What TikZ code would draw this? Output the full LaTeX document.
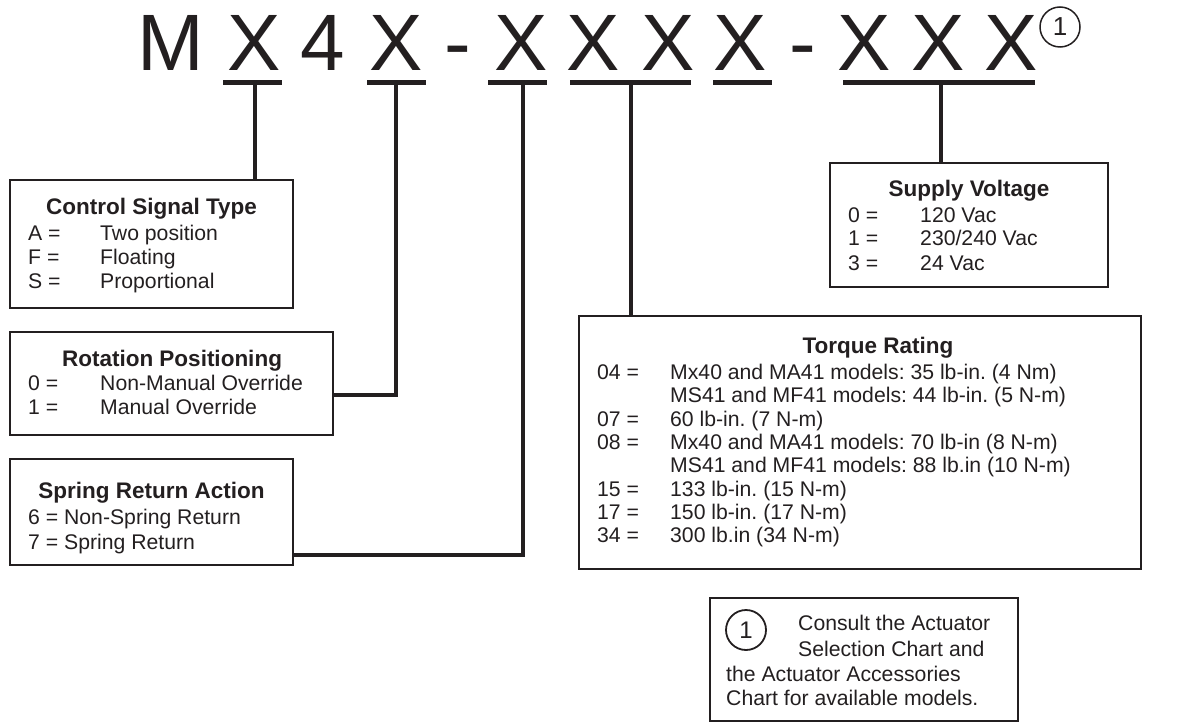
\documentclass[tikz,border=0pt]{standalone}
\usepackage{fontspec}
\setmainfont{Liberation Sans}
\definecolor{ink}{HTML}{231F20}
\frenchspacing
\begin{document}
\begin{tikzpicture}[x=1pt,y=-1pt,
  box/.style={draw=ink,line width=2.4pt,inner sep=0pt,outer sep=0pt,rectangle},
  conn/.style={draw=ink,line width=4.6pt},
  uline/.style={draw=ink,line width=5pt},
  big/.style={anchor=base,inner sep=0pt,text=ink,font=\fontsize{80}{80}\selectfont},
  ttl/.style={anchor=base,inner sep=0pt,text=ink,font=\fontsize{22.5}{24}\selectfont\bfseries},
  txt/.style={anchor=base west,inner sep=0pt,text=ink,font=\fontsize{21.2}{24}\selectfont},
  circ/.style={draw=ink,line width=1.8pt,circle,inner sep=0pt,minimum size=40pt,text=ink}
]
\useasboundingbox (0,0) rectangle (1177,727);
% title code
\node[big] (tM) at (171,71) {M};
\node[big] (tX1) at (254,71) {X};
\node[big] (t4) at (323,71) {4};
\node[big] (tX2) at (396,71) {X};
\node[big] (td1) at (458,71) {-};
\node[big] (tX3) at (521,71) {X};
\node[big] (tX4) at (593,71) {X};
\node[big] (tX5) at (668,71) {X};
\node[big] (tX6) at (740,71) {X};
\node[big] (td2) at (803,71) {-};
\node[big] (tX7) at (864,71) {X};
\node[big] (tX8) at (938,71) {X};
\node[big] (tX9) at (1011,71) {X};
\node[circ,line width=1.5pt,font=\fontsize{26}{26}\selectfont] (fn1) at (1060,27) {1};
% underlines
\draw[uline] (223,83) -- (282,83);
\draw[uline] (367,83) -- (426,83);
\draw[uline] (488,83) -- (547,83);
\draw[uline] (570,83) -- (691,83);
\draw[uline] (713,83) -- (772,83);
\draw[uline] (843,83) -- (1035,83);
\coordinate (u1) at (255,83);
\coordinate (u2) at (396,83);
\coordinate (u3) at (523,83);
\coordinate (u4) at (631,83);
\coordinate (u5) at (941,83);
% boxes
\node[box,minimum width=283pt,minimum height=128pt] (ctrl) at (151.5,244) {};
\node[box,minimum width=323pt,minimum height=103pt] (rot) at (171.5,383.5) {};
\node[box,minimum width=283pt,minimum height=106pt] (spr) at (151.5,512) {};
\node[box,minimum width=278pt,minimum height=124pt] (sup) at (969,225) {};
\node[box,minimum width=562pt,minimum height=253pt] (trq) at (860,442.5) {};
\node[box,minimum width=308pt,minimum height=123pt] (note) at (864,659.5) {};
% connectors
\coordinate (c2) at (333,395);
\coordinate (c3) at (293,555);
\draw[conn] (u1) -- (u1 |- ctrl.north);
\draw[conn] (u2) |- (c2);
\draw[conn] (u3) |- (c3);
\draw[conn] (u4) -- (u4 |- trq.north);
\draw[conn] (u5) -- (u5 |- sup.north);
% control signal type
\node[ttl] (ctrlT) at (151.5,215) {Control Signal Type};
\node[txt] (ctrlA) at (28,241) {A =};
\node[txt] (ctrlAv) at (100,241) {Two position};
\node[txt] (ctrlF) at (28,265) {F =};
\node[txt] (ctrlFv) at (100,265) {Floating};
\node[txt] (ctrlS) at (28,288) {S =};
\node[txt] (ctrlSv) at (100,288) {Proportional};
% rotation positioning
\node[ttl] (rotT) at (172,366) {Rotation Positioning};
\node[txt] (rot0) at (28,390.5) {0 =};
\node[txt] (rot0v) at (100,390.5) {Non-Manual Override};
\node[txt] (rot1) at (28,414.5) {1 =};
\node[txt] (rot1v) at (100,414.5) {Manual Override};
% spring return
\node[ttl] (sprT) at (151.5,498) {Spring Return Action};
\node[txt] (spr6) at (28,524) {6 = Non-Spring Return};
\node[txt] (spr7) at (28,549) {7 = Spring Return};
% supply voltage
\node[ttl] (supT) at (969,197) {Supply Voltage};
\node[txt] (sup0) at (848,223) {0 =};
\node[txt] (sup0v) at (920,223) {120 Vac};
\node[txt] (sup1) at (848,246) {1 =};
\node[txt] (sup1v) at (920,246) {230/240 Vac};
\node[txt] (sup3) at (848,270) {3 =};
\node[txt] (sup3v) at (920,270) {24 Vac};
% torque rating
\node[ttl] (trqT) at (878,353) {Torque Rating};
\node[txt] (t04) at (597,379.5) {04 =};
\node[txt] (t04a) at (670,379.5) {Mx40 and MA41 models: 35 lb-in. (4 Nm)};
\node[txt] (t04b) at (670,402.8) {MS41 and MF41 models: 44 lb-in. (5 N-m)};
\node[txt] (t07) at (597,426.1) {07 =};
\node[txt] (t07a) at (670,426.1) {60 lb-in. (7 N-m)};
\node[txt] (t08) at (597,449.4) {08 =};
\node[txt] (t08a) at (670,449.4) {Mx40 and MA41 models: 70 lb-in (8 N-m)};
\node[txt] (t08b) at (670,472.7) {MS41 and MF41 models: 88 lb.in (10 N-m)};
\node[txt] (t15) at (597,496) {15 =};
\node[txt] (t15a) at (670,496) {133 lb-in. (15 N-m)};
\node[txt] (t17) at (597,519.3) {17 =};
\node[txt] (t17a) at (670,519.3) {150 lb-in. (17 N-m)};
\node[txt] (t34) at (597,542.6) {34 =};
\node[txt] (t34a) at (670,542.6) {300 lb.in (34 N-m)};
% footnote
\node[circ,font=\fontsize{24}{24}\selectfont] (fn2) at (746,630) {1};
\node[txt] (n1) at (798,630.5) {Consult the Actuator};
\node[txt] (n2) at (798,656.5) {Selection Chart and};
\node[txt] (n3) at (726,681.5) {the Actuator Accessories};
\node[txt] (n4) at (726,705.5) {Chart for available models.};
\end{tikzpicture}
\end{document}
